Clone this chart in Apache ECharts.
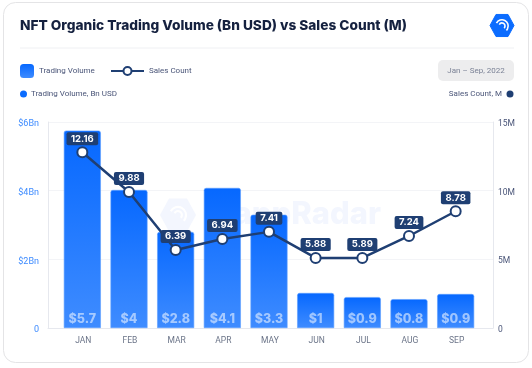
<!DOCTYPE html>
<html><head><meta charset="utf-8">
<style>html,body{margin:0;padding:0;background:#fff}#c{width:532px;height:368px}</style>
<script src="https://cdn.jsdelivr.net/npm/echarts@6/dist/echarts.min.js"></script>
</head><body><div id="c"></div>
<script>
const months = ['JAN','FEB','MAR','APR','MAY','JUN','JUL','AUG','SEP'];
const barHeights = [5.75,4.02,2.8,4.08,3.3,1.02,0.9,0.84,0.99];
const barLabels = ['$5.7','$4','$2.8','$4.1','$3.3','$1','$0.9','$0.8','$0.9'];
const linePositions = [12.8,9.9,5.68,6.48,7.0,5.1,5.1,6.7,8.5];
const lineLabels = ['12.16','9.88','6.39','6.94','7.41','5.88','5.89','7.24','8.78'];
const leftTicks = {0:'0',2:'$2Bn',4:'$4Bn',6:'$6Bn'};
const rightTicks = {0:'0',5:'5M',10:'10M',15:'15M'};

const navy = '#1f3f73', blue = '#0b6cff', F = 'Roboto';
const chart = echarts.init(document.getElementById('c'), null, {renderer:'canvas'});
const barGrad = new echarts.graphic.LinearGradient(0,0,0,1,[{offset:0,color:'#0668ff'},{offset:1,color:'#3f8cff'}]);
const hex = (cx,cy,r)=>[[cx-r,cy],[cx-r/2,cy-r*.92],[cx+r/2,cy-r*.92],[cx+r,cy],[cx+r/2,cy+r*.92],[cx-r/2,cy+r*.92]];
const T = (x,y,text,extra)=>({type:'text',x,y,silent:true,style:Object.assign({text,fontFamily:F,fontSize:8,fill:'#4a5578',textVerticalAlign:'middle'},extra)});
const arcs = (cx,cy,s,color,z)=>[
  {type:'arc',z,silent:true,shape:{cx,cy,r:s*.62,startAngle:-Math.PI*.85,endAngle:Math.PI*.25},style:{stroke:color,lineWidth:s*.16,fill:null}},
  {type:'arc',z,silent:true,shape:{cx,cy,r:s*.3,startAngle:-Math.PI*.85,endAngle:Math.PI*.25},style:{stroke:color,lineWidth:s*.16,fill:null}}
];

chart.setOption({
  animation:false,
  backgroundColor:'#fff',
  title:{text:'NFT Organic Trading Volume (Bn USD) vs Sales Count (M)',left:15,top:14,textStyle:{fontFamily:'Inter',fontWeight:800,fontSize:13.7,color:'#15213f'}},
  legend:[
    {left:15,top:59,itemWidth:14,itemHeight:14,itemGap:4,data:['Trading Volume'],itemStyle:{borderWidth:0},textStyle:{fontFamily:F,fontSize:8,color:'#4a5578'}},
    {left:105,top:61,itemWidth:33,itemHeight:10,itemGap:6,data:['Sales Count'],textStyle:{fontFamily:F,fontSize:8,color:'#4a5578'}}
  ],
  grid:[
    {left:48,right:39,top:122,bottom:40},
    {left:59,right:53,top:122,bottom:40}
  ],
  xAxis:[
    {gridIndex:0,type:'category',data:months,axisLine:{lineStyle:{color:'#e6e8ee'}},axisTick:{show:false},axisLabel:{show:false},splitLine:{show:false}},
    {gridIndex:1,type:'category',data:months,axisLine:{show:false},axisTick:{show:false},axisLabel:{color:'#6b7488',fontFamily:F,fontSize:8.5,margin:8,padding:[0,0,0,2]}}
  ],
  yAxis:[
    {gridIndex:0,type:'value',min:0,max:6,interval:2,axisLine:{show:true,lineStyle:{color:'#e6e8ee'}},axisTick:{show:false},
      splitLine:{lineStyle:{color:'#f3f4f7'}},axisLabel:{color:'#3d8bff',fontFamily:F,fontSize:9,margin:9,verticalAlign:'top',lineHeight:4,formatter:v=>leftTicks[v]}},
    {gridIndex:0,type:'value',position:'right',min:0,max:15,interval:5,axisLine:{show:true,lineStyle:{color:'#e6e8ee'}},axisTick:{show:false},
      splitLine:{show:false},axisLabel:{color:'#4a5578',fontFamily:F,fontSize:8.5,margin:5,verticalAlign:'top',lineHeight:4,formatter:v=>rightTicks[v]}},
    {gridIndex:1,type:'value',min:0,max:6,show:false},
    {gridIndex:1,type:'value',min:0,max:15,show:false}
  ],
  series:[
    {name:'Trading Volume',type:'bar',xAxisIndex:1,yAxisIndex:2,barWidth:37,data:barHeights,z:2,
      itemStyle:{color:barGrad,borderRadius:[2,2,0,0],borderColor:'#5d9eff',borderWidth:0.6},
      label:{show:true,position:'insideBottom',distance:2,fontFamily:'Inter',fontWeight:800,fontSize:12.5,color:'rgba(255,255,255,.55)',formatter:p=>barLabels[p.dataIndex]}},
    {name:'Sales Count',type:'line',xAxisIndex:1,yAxisIndex:3,data:linePositions,z:5,symbol:'circle',symbolSize:10,showAllSymbol:true,
      lineStyle:{color:navy,width:2.5},itemStyle:{color:'#fff',borderColor:navy,borderWidth:2},
      label:{show:true,position:'top',distance:1,color:'#fff',fontFamily:'Inter',fontWeight:700,fontSize:9.5,backgroundColor:navy,borderRadius:2,padding:[1.5,4.5],formatter:p=>lineLabels[p.dataIndex]}}
  ],
  graphic:[
    {type:'rect',z:-10,silent:true,shape:{x:3.5,y:2.5,width:525,height:360,r:12},style:{fill:'#fff',stroke:'#e4e4e6',lineWidth:1}},
    {type:'line',silent:true,shape:{x1:20,y1:48,x2:514,y2:48},style:{stroke:'#eff0f3',lineWidth:1}},
    {type:'rect',silent:true,shape:{x:438,y:60,width:76,height:21,r:5},style:{fill:'#ededee'}},
    T(476,70.5,'Jan – Sep, 2022',{textAlign:'center',fill:'#7b8296'}),
    {type:'circle',silent:true,shape:{cx:23.5,cy:94,r:3.5},style:{fill:blue}},
    T(31,94,'Trading Volume, Bn USD'),
    T(502,94,'Sales Count, M',{textAlign:'right'}),
    {type:'circle',silent:true,shape:{cx:510,cy:94,r:3.5},style:{fill:navy}},
    {type:'polygon',silent:true,shape:{points:hex(502,25.5,12)},style:{fill:blue,lineJoin:'round',stroke:blue,lineWidth:1}},
    ...arcs(502,26,10,'#fff',10),
    {type:'polygon',z:-5,silent:true,shape:{points:hex(178,215,18)},style:{fill:'#f3f6fe'}},
    ...arcs(178,215,13,'#fff',-4),
    T(381,215,'DappRadar',{textAlign:'right',fontFamily:'Inter',fontWeight:800,fontSize:31,fill:'#f3f6fe',z:-5})
  ]
});
</script></body></html>
